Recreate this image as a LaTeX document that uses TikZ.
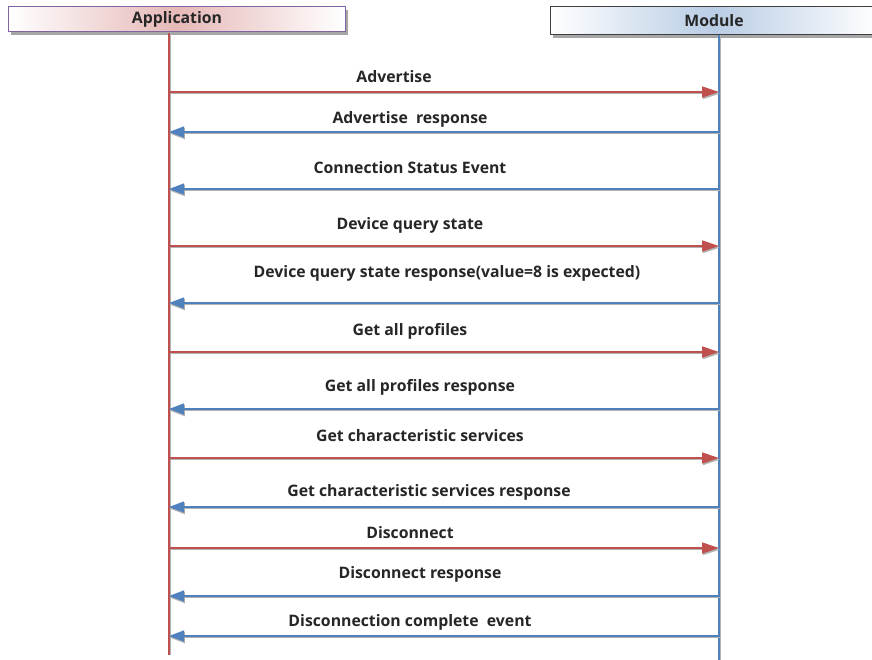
\documentclass[tikz,border=0pt]{standalone}
\usepackage{fontspec}
\setmainfont{Open Sans}
\usepackage{tikz}
\usetikzlibrary{arrows.meta, calc}

\definecolor{msgred}{HTML}{C0504D}
\definecolor{msgblue}{HTML}{4F81BD}
\definecolor{boxviolet}{HTML}{8064A2}

\tikzset{
  lbl/.style={font=\bfseries\fontsize{15.8}{18}\selectfont, text=black!85, inner sep=1pt},
  req/.style={msgred, line width=1.3pt, -{Triangle[length=17pt, width=11pt]},
    preaction={draw=gray!60, line width=1.3pt, transform canvas={shift={(0.8pt,-1.6pt)}}}},
  resp/.style={msgblue, line width=1.3pt, -{Triangle[length=15pt, width=11pt]},
    preaction={draw=gray!60, line width=1.3pt, transform canvas={shift={(0.8pt,-1.6pt)}}}},
}

\begin{document}
\begin{tikzpicture}[x=1pt, y=-1pt]
  \useasboundingbox (0,0) rectangle (872,660);

  % Header boxes with drop shadows
  \fill[gray!70] (11,10) rectangle (348,35);
  \shade[left color=white, right color=white, middle color=msgred!40] (8,7) rectangle (345,32);
  \draw[boxviolet, line width=1pt] (8,7) rectangle (345,32);
  \node[lbl] (app) at (177,19) {Application};

  \fill[gray!70] (553,10) rectangle (880,38);
  \shade[left color=white, right color=white, middle color=msgblue!40] (550,7) rectangle (878,35);
  \draw[black!75, line width=1pt] (550,7) rectangle (878,35);
  \node[lbl] (mod) at (714,21) {Module};

  % Lifelines
  \coordinate (appTop) at (169,33);
  \coordinate (appEnd) at (169,655);
  \coordinate (modTop) at (719,35);
  \coordinate (modEnd) at (719,660);
  \draw[gray!60, line width=1.6pt] ($(appTop)+(1.5,0)$) -- ($(appEnd)+(1.5,0)$);
  \draw[msgred, line width=1.2pt] (appTop) -- (appEnd);
  \draw[gray!60, line width=1.6pt] ($(modTop)+(1.5,0)$) -- ($(modEnd)+(1.5,0)$);
  \draw[msgblue, line width=1.2pt] (modTop) -- (modEnd);

  % Messages
  \coordinate (a1) at (169,92);   \coordinate (m1) at (719,92);
  \draw[req] (a1) -- (m1);
  \node[lbl] (l1) at (394,77) {Advertise};

  \coordinate (a2) at (169,132);  \coordinate (m2) at (719,132);
  \draw[resp] (m2) -- (a2);
  \node[lbl] (l2) at (410,119) {Advertise\ \ response};

  \coordinate (a3) at (169,189);  \coordinate (m3) at (719,189);
  \draw[resp] (m3) -- (a3);
  \node[lbl] (l3) at (410,168) {Connection Status Event};

  \coordinate (a4) at (169,246);  \coordinate (m4) at (719,246);
  \draw[req] (a4) -- (m4);
  \node[lbl] (l4) at (410,225) {Device query state};

  \coordinate (a5) at (169,303);  \coordinate (m5) at (719,303);
  \draw[resp] (m5) -- (a5);
  \node[lbl] (l5) at (447,273) {Device query state response(value=8 is expected)};

  \coordinate (a6) at (169,352);  \coordinate (m6) at (719,352);
  \draw[req] (a6) -- (m6);
  \node[lbl] (l6) at (410,331) {Get all profiles};

  \coordinate (a7) at (169,409);  \coordinate (m7) at (719,409);
  \draw[resp] (m7) -- (a7);
  \node[lbl] (l7) at (420,387) {Get all profiles response};

  \coordinate (a8) at (169,458);  \coordinate (m8) at (719,458);
  \draw[req] (a8) -- (m8);
  \node[lbl] (l8) at (420,436) {Get characteristic services};

  \coordinate (a9) at (169,507);  \coordinate (m9) at (719,507);
  \draw[resp] (m9) -- (a9);
  \node[lbl] (l9) at (429,492) {Get characteristic services response};

  \coordinate (a10) at (169,548); \coordinate (m10) at (719,548);
  \draw[req] (a10) -- (m10);
  \node[lbl] (l10) at (410,533) {Disconnect};

  \coordinate (a11) at (169,596); \coordinate (m11) at (719,596);
  \draw[resp] (m11) -- (a11);
  \node[lbl] (l11) at (420,574) {Disconnect response};

  \coordinate (a12) at (169,636); \coordinate (m12) at (719,636);
  \draw[resp] (m12) -- (a12);
  \node[lbl] (l12) at (410,622) {Disconnection complete\ \ event};
\end{tikzpicture}
\end{document}
